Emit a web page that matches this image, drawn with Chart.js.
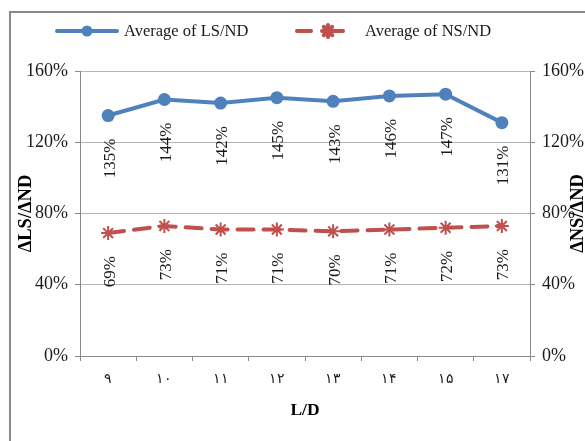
<!DOCTYPE html>
<html>
<head>
<meta charset="utf-8">
<script src="https://cdn.jsdelivr.net/npm/chart.js@4/dist/chart.umd.min.js"></script>
<style>
  html, body { margin: 0; padding: 0; background: #fff; }
  #wrap { width: 585px; height: 441px; position: relative; }
</style>
</head>
<body>
<div id="wrap"><canvas id="c" width="585" height="441"></canvas></div>
<script>
// L/D categories (Persian digits)
const categories = ['۹', '۱۰', '۱۱', '۱۲', '۱۳', '۱۴', '۱۵', '۱۷'];
// Average of LS/ND and NS/ND, in percent
const lsValues = [135, 144, 142, 145, 143, 146, 147, 131];
const nsValues = [69, 73, 71, 71, 70, 71, 72, 73];
// Y-axis ticks (percent)
const yTicks = [0, 40, 80, 120, 160];

const seriesNames = ['Average of LS/ND', 'Average of NS/ND'];
const axisTitles = { x: 'L/D', left: 'ΔLS/ΔND', right: 'ΔNS/ΔND' };

const BLUE = '#4F81BD';
const RED = '#C0504D';
const SERIF = '"Liberation Serif", "Times New Roman", serif';

// Frame, legend, rotated value labels and axis titles
const decor = {
  id: 'decor',
  beforeDraw(chart) {
    const ctx = chart.ctx;
    ctx.save();
    ctx.fillStyle = '#fff';
    ctx.fillRect(0, 0, chart.width, chart.height);
    ctx.strokeStyle = '#8a8a8a';
    ctx.lineWidth = 2;
    ctx.strokeRect(10, 12, chart.width + 10, chart.height + 10);
    ctx.restore();
  },
  afterDatasetsDraw(chart) {
    const ctx = chart.ctx;
    ctx.save();
    // value labels, rotated, below each point
    ctx.font = '17px ' + SERIF;
    ctx.fillStyle = '#1a1a1a';
    ctx.textAlign = 'right';
    ctx.textBaseline = 'middle';
    chart.data.datasets.forEach((ds, i) => {
      const meta = chart.getDatasetMeta(i);
      meta.data.forEach((pt, j) => {
        ctx.save();
        ctx.translate(pt.x + 2, pt.y + 23);
        ctx.rotate(-Math.PI / 2);
        ctx.fillText(ds.data[j] + '%', 0, 0);
        ctx.restore();
      });
    });

    // legend
    const ly = 31;
    ctx.lineCap = 'round';
    ctx.strokeStyle = BLUE;
    ctx.lineWidth = 4;
    ctx.beginPath(); ctx.moveTo(57, ly); ctx.lineTo(117, ly); ctx.stroke();
    ctx.fillStyle = BLUE;
    ctx.beginPath(); ctx.arc(87, ly, 5.5, 0, Math.PI * 2); ctx.fill();

    ctx.strokeStyle = RED;
    ctx.beginPath(); ctx.moveTo(297, ly); ctx.lineTo(311, ly); ctx.stroke();
    ctx.beginPath(); ctx.moveTo(324, ly); ctx.lineTo(343, ly); ctx.stroke();
    Chart.helpers.drawPoint(ctx, { pointStyle: 'star', radius: 6, rotation: 0, borderWidth: 1.5 }, 328, ly);
    ctx.lineWidth = 1.5;
    ctx.stroke();

    ctx.fillStyle = '#1a1a1a';
    ctx.font = '16.5px ' + SERIF;
    ctx.textAlign = 'left';
    ctx.textBaseline = 'middle';
    ctx.fillText(seriesNames[0], 124, ly + 1);
    ctx.fillText(seriesNames[1], 365, ly + 1);

    // axis titles
    const area = chart.chartArea;
    const midY = (area.top + area.bottom) / 2;
    ctx.font = 'bold 18.5px ' + SERIF;
    ctx.textAlign = 'center';
    ctx.fillStyle = '#000';
    [[26, axisTitles.left], [578, axisTitles.right]].forEach(([x, t]) => {
      ctx.save();
      ctx.translate(x, midY);
      ctx.rotate(-Math.PI / 2);
      ctx.fillText(t, 0, 0);
      ctx.restore();
    });
    ctx.font = 'bold 17.5px ' + SERIF;
    ctx.fillText(axisTitles.x, (area.left + area.right) / 2, 410);
    ctx.restore();
  }
};

const yScale = (pos, w) => ({
  type: 'linear',
  position: pos,
  min: 0,
  max: 160,
  afterBuildTicks: s => { s.ticks = yTicks.map(v => ({ value: v })); },
  afterFit: s => { s.width = w; },
  ticks: {
    color: '#1a1a1a',
    font: { family: SERIF, size: 18 },
    padding: 7,
    callback: v => v + '%'
  },
  grid: {
    drawOnChartArea: pos === 'left',
    color: '#b5b5b5',
    lineWidth: 1,
    tickLength: 5,
    tickColor: '#8a8a8a'
  },
  border: { color: '#8a8a8a', width: 1 }
});

new Chart(document.getElementById('c'), {
  type: 'line',
  data: {
    labels: categories,
    datasets: [
      {
        label: seriesNames[0],
        data: lsValues,
        yAxisID: 'y',
        borderColor: BLUE,
        backgroundColor: BLUE,
        borderWidth: 4,
        pointStyle: 'circle',
        pointRadius: 6.5,
        pointBorderWidth: 0,
        tension: 0
      },
      {
        label: seriesNames[1],
        data: nsValues,
        yAxisID: 'y2',
        borderColor: RED,
        backgroundColor: RED,
        borderWidth: 4,
        borderDash: [16, 10],
        borderCapStyle: 'round',
        pointStyle: 'star',
        pointRadius: 7,
        pointBorderWidth: 2,
        tension: 0
      }
    ]
  },
  options: {
    responsive: false,
    animation: false,
    devicePixelRatio: 1,
    layout: { padding: { top: 71, left: 0, right: 0, bottom: 0 } },
    plugins: { legend: { display: false }, tooltip: { enabled: false } },
    scales: {
      x: {
        type: 'category',
        offset: true,
        afterFit: s => { s.height = 85; },
        ticks: {
          color: '#1a1a1a',
          font: { family: SERIF, size: 14 },
          padding: 10,
          maxRotation: 0
        },
        grid: {
          offset: true,
          drawOnChartArea: false,
          tickLength: 5,
          color: '#8a8a8a'
        },
        border: { color: '#8a8a8a', width: 1 }
      },
      y: yScale('left', 80),
      y2: yScale('right', 55)
    }
  },
  plugins: [decor]
});
</script>
</body>
</html>
